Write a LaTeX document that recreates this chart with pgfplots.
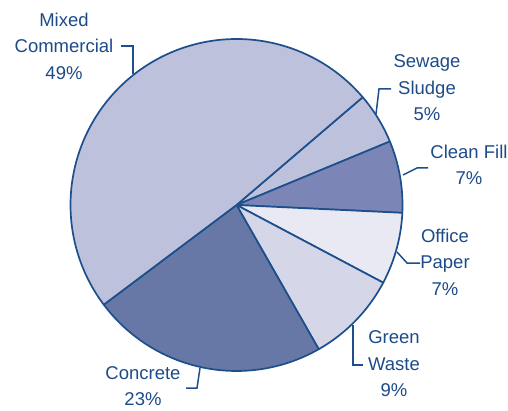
\documentclass[border=0pt]{standalone}
\usepackage{pgfplots}
\pgfplotsset{compat=1.18}
\usepackage{fontspec}
\setmainfont{Liberation Sans}
\definecolor{edge}{HTML}{1D4F8C}
\definecolor{txt}{HTML}{1C4B88}
\definecolor{cMixed}{HTML}{BEC1DC}
\definecolor{cSewage}{HTML}{BEC1DC}
\definecolor{cClean}{HTML}{7B86B7}
\definecolor{cOffice}{HTML}{E9E9F4}
\definecolor{cGreen}{HTML}{D5D7E8}
\definecolor{cConcrete}{HTML}{6778A6}
\begin{document}
\begin{tikzpicture}
% shares in percent, clockwise from the top-right boundary
\def\vSewage{5}\def\vClean{7}\def\vOffice{7}\def\vGreen{9}\def\vConcrete{23}\def\vMixed{49}
\pgfmathsetmacro\aA{40.5}
\pgfmathsetmacro\aB{\aA-3.6*\vSewage}
\pgfmathsetmacro\aC{\aB-3.6*\vClean}
\pgfmathsetmacro\aD{\aC-3.6*\vOffice}
\pgfmathsetmacro\aE{\aD-3.6*\vGreen}
\pgfmathsetmacro\aF{\aE-3.6*\vConcrete}
\pgfmathsetmacro\aG{\aF-3.6*\vMixed}
\def\cx{236.5}\def\cy{205}\def\r{166}
\path (0,0) rectangle (508pt,410pt);
\begin{axis}[
  anchor=south west, at={(0,0)},
  scale only axis, width=508pt, height=410pt,
  xmin=0, xmax=508, ymin=0, ymax=410,
  hide axis, clip=false,
  every axis plot/.append style={draw=edge, line width=1.7pt, line join=round, samples=60, variable=\t},
]
\addplot[fill=cSewage, domain=\aB:\aA] ({\cx+\r*cos(\t)},{\cy+\r*sin(\t)}) -- (axis cs:\cx,\cy) -- cycle;
\addplot[fill=cClean, domain=\aC:\aB] ({\cx+\r*cos(\t)},{\cy+\r*sin(\t)}) -- (axis cs:\cx,\cy) -- cycle;
\addplot[fill=cOffice, domain=\aD:\aC] ({\cx+\r*cos(\t)},{\cy+\r*sin(\t)}) -- (axis cs:\cx,\cy) -- cycle;
\addplot[fill=cGreen, domain=\aE:\aD] ({\cx+\r*cos(\t)},{\cy+\r*sin(\t)}) -- (axis cs:\cx,\cy) -- cycle;
\addplot[fill=cConcrete, domain=\aF:\aE] ({\cx+\r*cos(\t)},{\cy+\r*sin(\t)}) -- (axis cs:\cx,\cy) -- cycle;
\addplot[fill=cMixed, samples=120, domain=\aG:\aF] ({\cx+\r*cos(\t)},{\cy+\r*sin(\t)}) -- (axis cs:\cx,\cy) -- cycle;

\begin{scope}[edge, line width=1.5pt]
\draw (axis cs:121,364) -- (axis cs:133,364) -- (axis cs:133,336);
\draw (axis cs:391,321) -- (axis cs:379,321) -- (axis cs:376,296);
\draw (axis cs:428,242) -- (axis cs:417,242) -- (axis cs:403,235);
\draw (axis cs:397,158) -- (axis cs:407,147) -- (axis cs:420,147);
\draw (axis cs:353,85) -- (axis cs:353,45) -- (axis cs:363,45);
\draw (axis cs:200,42) -- (axis cs:197,22) -- (axis cs:186,22);
\end{scope}

\tikzset{lab/.style={text=txt, align=center, font=\fontsize{18.5}{26.5}\selectfont, inner sep=0pt}}
\node[lab] at (axis cs:64,364) {Mixed\\Commercial\\49\%};
\node[lab] at (axis cs:427,322) {Sewage\\Sludge\\5\%};
\node[lab] at (axis cs:469,245) {Clean Fill\\7\%};
\node[lab] at (axis cs:445,148) {Office\\Paper\\7\%};
\node[lab] at (axis cs:394,46) {Green\\Waste\\9\%};
\node[lab] at (axis cs:143,24) {Concrete\\23\%};
\end{axis}
\end{tikzpicture}
\end{document}
